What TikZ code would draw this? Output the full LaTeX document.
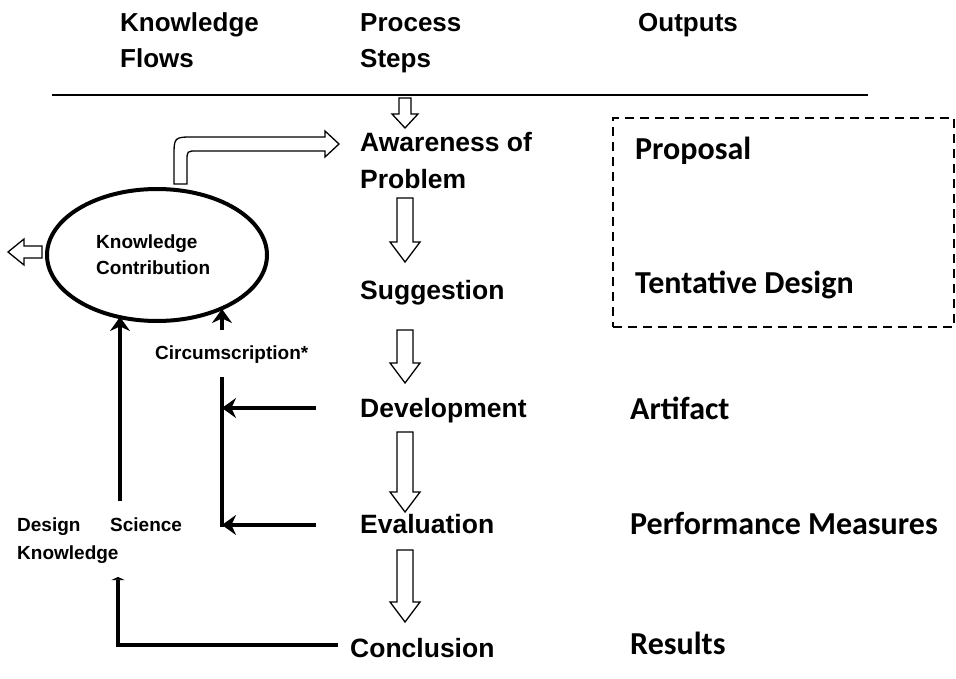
\documentclass[tikz,border=0pt]{standalone}
\usepackage{fontspec}
\setmainfont{Liberation Sans}
\newfontfamily\calib{Carlito}
\usetikzlibrary{arrows.meta,shapes.geometric}
\newcommand\hollowdown[3]{%
  \draw[hollow] ({#1-8},{#2}) -- ({#1+8},{#2}) -- ({#1+8},{#3-20}) -- ({#1+15},{#3-20}) -- ({#1},{#3}) -- ({#1-15},{#3-20}) -- ({#1-8},{#3-20}) -- cycle;}
\begin{document}
\begin{tikzpicture}[x=1pt,y=-1pt,
  hdr/.style={font=\fontsize{26}{31}\selectfont\bfseries, anchor=base west, inner sep=0pt},
  stepl/.style={font=\fontsize{26.5}{31}\selectfont\bfseries, anchor=base west, inner sep=0pt},
  outl/.style={font=\calib\fontsize{32}{38}\selectfont\bfseries, anchor=base west, inner sep=0pt},
  smalll/.style={font=\fontsize{19}{23}\selectfont\bfseries, anchor=base west, inner sep=0pt},
  hollow/.style={draw=black, line width=1.3pt, fill=white, line join=miter},
  flow/.style={line width=4pt, -{Stealth[length=14pt,width=20pt]}},
  flowsmall/.style={line width=4pt, -{Triangle[length=3pt,width=13pt]}}]
\useasboundingbox (0,0) rectangle (956,679);
% headers
\node[hdr] (h1a) at (120,32) {Knowledge};
\node[hdr] (h1b) at (120,68) {Flows};
\node[hdr] (h2a) at (360,32) {Process};
\node[hdr] (h2b) at (360,68) {Steps};
\node[hdr] (h3a) at (638,32) {Outputs};
\coordinate (ruleL) at (52,95);
\coordinate (ruleR) at (868,95);
\draw[line width=1.3pt] (ruleL) -- (ruleR);
% process steps
\node[stepl] (aw1) at (360,152) {Awareness of};
\node[stepl] (aw2) at (360,189) {Problem};
\node[stepl] (sug) at (360,299) {Suggestion};
\node[stepl] (dev) at (360,417) {Development};
\node[stepl] (eva) at (360,533) {Evaluation};
\node[stepl] (con) at (350,657) {Conclusion};
% hollow down arrows
\draw[hollow] (399,98) -- (411,98) -- (411,114) -- (418,114) -- (405,128) -- (392,114) -- (399,114) -- cycle;
\hollowdown{405}{198}{262}
\hollowdown{405}{330}{383}
\hollowdown{405}{432}{512}
\hollowdown{405}{550}{622}
% outputs
\node[draw, dashed, dash pattern=on 9pt off 6pt, line width=2pt, minimum width=341pt, minimum height=209pt] (obox) at (783.5,222.5) {};
\node[outl] (o1) at (635,160) {Proposal};
\node[outl] (o2) at (635,294) {Tentative Design};
\node[outl] (o3) at (630,419) {Artifact};
\node[outl] (o4) at (630,534) {Performance Measures};
\node[outl] (o5) at (630,654) {Results};
% knowledge contribution
\node[ellipse, draw, line width=4pt, minimum width=220pt, minimum height=132pt] (kc) at (157,255) {};
\node[smalll] (kc1) at (96,249) {Knowledge};
\node[smalll] (kc2) at (96,275) {Contribution};
\draw[hollow] (174,184) -- (174,157) .. controls (174,137) .. (194,137) -- (325,137) -- (325,131) -- (339,144) -- (325,157) -- (325,151) -- (197,151) .. controls (187,151) .. (187,161) -- (187,184) -- cycle;
\draw[hollow] (42,246) -- (24,246) -- (24,239) -- (8,252) -- (24,265) -- (24,258) -- (42,258) -- cycle;
% knowledge flows
\node[smalll] (circ) at (155,359) {Circumscription*};
\node[smalll] (ds1) at (17,531) {Design};
\node[smalll] (ds2) at (110,531) {Science};
\node[smalll] (ds3) at (17,559) {Knowledge};
\coordinate (dsTop) at (120,501);
\coordinate (kcL) at (120,317);
\coordinate (circTop) at (222,330);
\coordinate (kcR) at (222,309);
\coordinate (vTop) at (222,377);
\coordinate (vBot) at (222,527);
\coordinate (devL) at (316,408);
\coordinate (devT) at (222,408);
\coordinate (evaL) at (316,525);
\coordinate (evaT) at (222,525);
\coordinate (conL) at (338,645);
\coordinate (corner) at (118,645);
\coordinate (dsBot) at (118,577);
\draw[flow] (dsTop) -- (kcL);
\draw[flow] (circTop) -- (kcR);
\draw[line width=4pt] (vTop) -- (vBot);
\draw[flow] (devL) -- (devT);
\draw[flow] (evaL) -- (evaT);
\draw[flowsmall] (conL) -- (corner) -- (dsBot);
\end{tikzpicture}
\end{document}
